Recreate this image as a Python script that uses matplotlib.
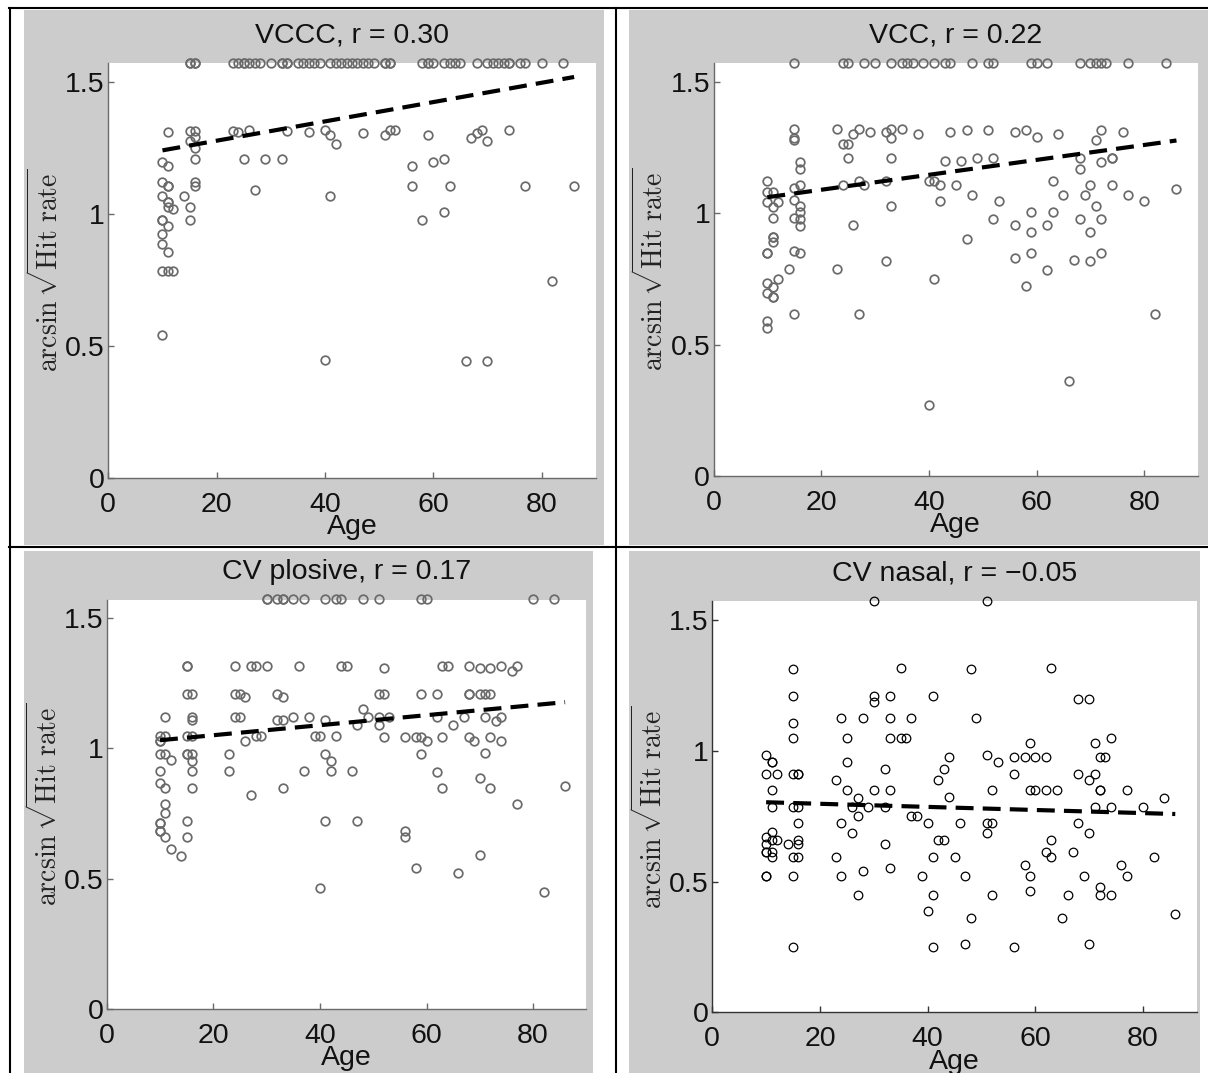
import numpy as np
import matplotlib
matplotlib.use('Agg')
import matplotlib.pyplot as plt
from matplotlib.patches import Rectangle
from matplotlib.lines import Line2D

plt.rcParams['font.family'] = ['Liberation Sans', 'DejaVu Sans']
plt.rcParams['mathtext.fontset'] = 'cm'

# value of the points sitting on the top edge (hit rate = 1)
CEIL = 1.571

# ---- VCCC ----
vccc_ceil_age = [15, 15, 16, 16, 23, 24, 25, 25, 26, 27, 28, 30, 32, 32, 33, 33, 35, 36, 37,
                 38, 39, 41, 42, 43, 44, 45, 46, 47, 48, 49, 51, 51, 52, 52, 58, 59, 59, 60,
                 62, 63, 64, 65, 68, 70, 71, 72, 73, 74, 74, 76, 77, 80, 84]
vccc_age = [11, 15, 16, 15, 16, 16, 16, 16, 16,
            10, 11, 10, 11, 11, 10, 11, 11, 11, 12, 14, 15, 15, 10, 10, 11, 10, 10, 11, 10, 11, 12, 10,
            23, 24, 26, 25, 29, 32, 27, 33, 37, 40, 41, 42, 41, 40,
            47, 51, 52, 53, 59, 56, 56, 60, 62, 63, 62, 58, 67, 68, 69, 70, 74, 77, 86, 82, 66, 70]
vccc_val = [1.309, 1.316, 1.316, 1.278, 1.290, 1.249, 1.208, 1.122, 1.106,
            1.196, 1.182, 1.122, 1.107, 1.107, 1.068, 1.047, 1.047, 1.028, 1.019, 1.068, 1.028, 0.977,
            0.977, 0.977, 0.955, 0.924, 0.886, 0.857, 0.785, 0.785, 0.785, 0.542,
            1.316, 1.310, 1.318, 1.208, 1.208, 1.208, 1.091, 1.316, 1.309, 1.318, 1.299, 1.264, 1.069, 0.447,
            1.308, 1.299, 1.318, 1.318, 1.299, 1.182, 1.106, 1.196, 1.208, 1.106, 1.006, 0.977, 1.289,
            1.308, 1.318, 1.278, 1.318, 1.106, 1.106, 0.746, 0.444, 0.444]
vccc_fit = [1.241, 1.519]

# ---- VCC ----
vcc_ceil_age = [15, 24, 25, 28, 30, 33, 35, 36, 37, 39, 41, 43, 44, 48, 51, 52, 59, 60, 62,
                68, 70, 71, 72, 73, 77, 84]
vcc_age = [10, 10, 11, 10, 12, 11, 11, 11, 11, 11, 10, 10, 10, 11, 10, 11, 11, 12, 10, 10, 14,
           15, 15, 15, 15, 15, 15, 15, 15,
           16, 16, 16, 16, 16, 16, 16, 16,
           23, 23, 24, 25, 26, 27, 25, 24, 27, 28, 26, 27,
           29, 32, 33, 33, 35, 33, 32, 33, 32,
           38, 40, 41, 42, 42, 43, 44, 45, 41, 40,
           47, 51, 56, 58, 60, 64, 72, 71, 76,
           46, 49, 52, 48, 53, 52, 47, 56, 59, 59, 56, 59, 58, 62, 63, 63, 62, 65, 67, 68, 68, 68,
           69, 70, 70, 70, 71, 72, 72, 72, 74, 74, 74, 77, 80, 86, 82, 66]
vcc_val = [1.124, 1.080, 1.080, 1.044, 1.044, 1.025, 0.982, 0.911, 0.911, 0.892, 0.850, 0.850,
           0.733, 0.721, 0.695, 0.683, 0.683, 0.749, 0.591, 0.562, 0.787,
           1.320, 1.286, 1.280, 1.095, 1.051, 0.981, 0.858, 0.615,
           1.197, 1.168, 1.108, 1.028, 1.006, 0.977, 0.953, 0.848,
           1.320, 0.787, 1.264, 1.264, 1.302, 1.320, 1.209, 1.108, 1.124, 1.108, 0.956, 0.615,
           1.311, 1.311, 1.320, 1.286, 1.320, 1.209, 1.124, 1.028, 0.819,
           1.302, 1.124, 1.124, 1.108, 1.047, 1.199, 1.311, 1.108, 0.749, 0.270,
           1.317, 1.317, 1.311, 1.317, 1.289, 1.302, 1.317, 1.279, 1.311,
           1.199, 1.209, 1.209, 1.070, 1.048, 0.977, 0.901, 0.956, 1.006, 0.930, 0.831, 0.848, 0.723,
           0.956, 1.006, 1.123, 0.784, 1.070, 0.822, 1.209, 1.168, 0.977, 1.070, 1.108, 0.930, 0.819,
           1.028, 1.197, 0.977, 0.848, 1.209, 1.209, 1.108, 1.070, 1.048, 1.091, 0.615, 0.362]
vcc_fit = [1.061, 1.277]

# ---- CV plosive ----
plos_ceil_age = [30, 30, 32, 33, 33, 35, 37, 41, 43, 44, 48, 51, 59, 60, 80, 84]
plos_age = [10, 10, 10, 11, 11, 10, 11, 12, 10, 10, 11, 11, 11, 10, 10, 10, 10, 11, 12, 14,
            15, 15, 15, 16, 15, 16, 16, 16, 15, 15, 16, 16, 16, 16, 15, 15,
            24, 23, 23, 24, 25, 26, 24, 25, 26, 27, 28, 30, 28, 29, 27,
            32, 33, 32, 33, 35, 33, 36, 37, 38, 39, 40, 41, 41, 42, 42, 43, 44, 45, 41, 40, 46,
            52, 48, 49, 47, 51, 52, 51, 51, 53, 52, 56, 58, 59, 60, 59, 59, 62, 62, 63, 64, 63, 65,
            62, 63,
            68, 70, 72, 74, 76, 77, 68, 68, 70, 71, 72, 67, 71, 73, 74, 68, 69, 72, 74, 71, 70, 72,
            86, 77, 47, 56, 56, 58, 66, 70, 82]
plos_val = [1.049, 1.029, 1.029, 1.049, 0.977, 0.977, 1.121, 0.955, 0.913, 0.868, 0.849, 0.785,
            0.751, 0.715, 0.715, 0.683, 0.683, 0.659, 0.614, 0.587,
            1.317, 1.317, 1.208, 1.208, 1.049, 1.049, 1.121, 1.109, 0.977, 0.977, 0.977, 0.953,
            0.913, 0.849, 0.721, 0.659,
            1.317, 0.977, 0.913, 1.208, 1.208, 1.196, 1.121, 1.121, 1.028, 1.317, 1.317, 1.317,
            1.049, 1.049, 0.821,
            1.208, 1.196, 1.109, 1.109, 1.121, 0.849, 1.317, 0.913, 1.121, 1.049, 1.049, 1.109,
            0.977, 0.953, 0.913, 1.049, 1.317, 1.317, 0.721, 0.463, 0.913,
            1.307, 1.150, 1.121, 1.090, 1.208, 1.208, 1.121, 1.090, 1.121, 1.045, 1.045, 1.045,
            1.045, 1.028, 1.208, 0.977, 1.208, 1.121, 1.316, 1.316, 1.045, 1.090, 0.910, 0.847,
            1.316, 1.309, 1.309, 1.316, 1.297, 1.316, 1.208, 1.208, 1.208, 1.208, 1.208, 1.121,
            1.121, 1.105, 1.121, 1.045, 1.028, 1.045, 1.028, 0.981, 0.887, 0.847,
            0.857, 0.785, 0.721, 0.684, 0.659, 0.540, 0.523, 0.591, 0.448]
plos_fit = [1.031, 1.177]

# ---- CV nasal ----
nas_ceil_age = [30, 51]
nas_age = [15, 15, 15, 15, 15, 16, 16, 15, 16, 16, 16, 16, 15, 16, 15, 15,
           10, 11, 11, 10, 12, 11, 11, 11, 10, 11, 12, 10, 10, 10, 11, 11, 10, 10, 14,
           24, 28, 25, 25, 23, 25, 27, 26, 27, 24, 26, 23, 24, 28, 27, 29,
           30, 30, 30, 32, 32, 32, 33, 33, 33, 33, 33, 35, 35, 36, 37, 37, 38, 39, 40, 40,
           41, 41, 41, 41, 42, 43, 44, 44, 42, 43, 45,
           48, 63, 68, 70, 49, 59, 74, 71, 51, 53, 56, 58, 60, 62, 56, 68, 71, 70, 72, 73,
           52, 59, 60, 62, 64, 72, 72, 77, 71, 74, 80, 84, 46, 51, 52, 51, 68, 70, 63, 62, 63,
           67, 82, 58, 59, 59, 76, 77, 69, 72, 72, 74, 52, 66, 47, 48, 65, 86, 47, 56, 70]
nas_val = [1.311, 1.210, 1.107, 1.047, 0.911, 0.911, 0.911, 0.785, 0.785, 0.722, 0.659, 0.642,
           0.592, 0.592, 0.522, 0.251,
           0.983, 0.955, 0.955, 0.911, 0.911, 0.850, 0.785, 0.688, 0.671, 0.659, 0.659, 0.642,
           0.614, 0.614, 0.614, 0.592, 0.522, 0.522, 0.642,
           1.124, 1.124, 1.047, 0.955, 0.888, 0.850, 0.820, 0.785, 0.752, 0.722, 0.684, 0.592,
           0.522, 0.541, 0.448, 0.785,
           1.210, 1.185, 0.850, 0.930, 0.785, 0.642, 1.210, 1.124, 1.047, 0.850, 0.550, 1.318,
           1.047, 1.047, 1.124, 0.752, 0.752, 0.522, 0.722, 0.387,
           1.210, 0.592, 0.448, 0.251, 0.888, 0.930, 0.977, 0.824, 0.659, 0.659, 0.592,
           1.311, 1.318, 1.197, 1.197, 1.124, 1.028, 1.047, 1.028, 0.983, 0.955, 0.977, 0.977,
           0.977, 0.977, 0.911, 0.911, 0.911, 0.888, 0.977, 0.977,
           0.850, 0.850, 0.850, 0.850, 0.850, 0.850, 0.850, 0.850, 0.785, 0.785, 0.785, 0.820,
           0.722, 0.722, 0.722, 0.684, 0.722, 0.684, 0.659, 0.614, 0.592,
           0.614, 0.592, 0.563, 0.522, 0.464, 0.563, 0.522, 0.522, 0.480, 0.448, 0.448, 0.448,
           0.448, 0.522, 0.362, 0.362, 0.375, 0.261, 0.251, 0.261]
nas_fit = [0.803, 0.758]

titles = ['VCCC, r = 0.30', 'VCC, r = 0.22', 'CV plosive, r = 0.17', 'CV nasal, r = \u22120.05']
xticks = [0, 20, 40, 60, 80]
yticks = [0, 0.5, 1, 1.5]
ytick_labels = ['0', '0.5', '1', '1.5']

W, H = 1208, 1073
fig = plt.figure(figsize=(W / 100, H / 100), dpi=100)
fig.patch.set_facecolor('white')


def rect(x0, y0, x1, y1):
    # pixel box (top-left origin) -> figure fraction
    return [x0 / W, 1 - y1 / H, (x1 - x0) / W, (y1 - y0) / H]


# gray cell backgrounds (matlab figure color)
for x0, y0, x1, y1 in [(24, 10, 604, 545), (629, 10, 1208, 545),
                       (24, 551, 593, 1073), (629, 551, 1200, 1073)]:
    r = rect(x0, y0, x1, y1)
    fig.patches.append(Rectangle((r[0], r[1]), r[2], r[3], transform=fig.transFigure,
                                 facecolor='#cccccc', edgecolor='none', zorder=-5))

# table lines
for xs, ys in [((9, W), (8, 8)), ((9.5, 9.5), (8, H)), ((616, 616), (8, H)), ((9, W), (547, 547))]:
    fig.add_artist(Line2D([x / W for x in xs], [1 - y / H for y in ys], color='black',
                          lw=1.5, transform=fig.transFigure, zorder=5))

boxes = [(108.3, 63.3, 595.8, 478), (713.5, 63.3, 1198, 476),
         (106.7, 599.5, 586.4, 1009), (712.3, 601.4, 1196.8, 1012.3)]
series = [(vccc_ceil_age, vccc_age, vccc_val, vccc_fit),
          (vcc_ceil_age, vcc_age, vcc_val, vcc_fit),
          (plos_ceil_age, plos_age, plos_val, plos_fit),
          (nas_ceil_age, nas_age, nas_val, nas_fit)]

FS = 20.5

for i in range(4):
    ceil_age, age, val, fit = series[i]
    ax = fig.add_axes(rect(*boxes[i]))
    ax.set_facecolor('white')
    crisp = (i == 3)
    mcol = 'black' if crisp else '#6a6a6a'
    acol = '#333333' if crisp else '#6a6a6a'

    all_age = list(ceil_age) + list(age)
    all_val = [CEIL] * len(ceil_age) + list(val)
    ax.plot(all_age, all_val, 'o', ms=6.2, mfc='none', mec=mcol,
            mew=0.9 if crisp else 1.25, clip_on=False, zorder=3)
    ax.plot([min(all_age), max(all_age)], fit, color='black', lw=3.0,
            dashes=(4.3, 2.2), zorder=4)

    ax.set_xlim(0, 90)
    ax.set_ylim(0, np.pi / 2)
    ax.set_xticks(xticks)
    ax.set_yticks(yticks)
    ax.set_yticklabels(ytick_labels)
    for s in ['top', 'right']:
        ax.spines[s].set_visible(False)
    for s in ['left', 'bottom']:
        ax.spines[s].set_color(acol)
        ax.spines[s].set_linewidth(1.0)
    ax.tick_params(direction='in', length=4, width=1, color=acol, labelsize=FS,
                   labelcolor='#111111')
    ax.tick_params(axis='x', pad=10.0)
    ax.tick_params(axis='y', pad=2.4)

    ax.set_title(titles[i], fontsize=FS, pad=14.8, color='#111111')
    ax.set_xlabel('Age', fontsize=FS, labelpad=-2.5, color='#111111')
    ax.set_ylabel(r'$\arcsin\sqrt{\mathrm{Hit\ rate}}$', fontsize=20, color='#222222')
    ax.yaxis.set_label_coords(-0.091, 0.5)

fig.savefig('out.png', dpi=100)
